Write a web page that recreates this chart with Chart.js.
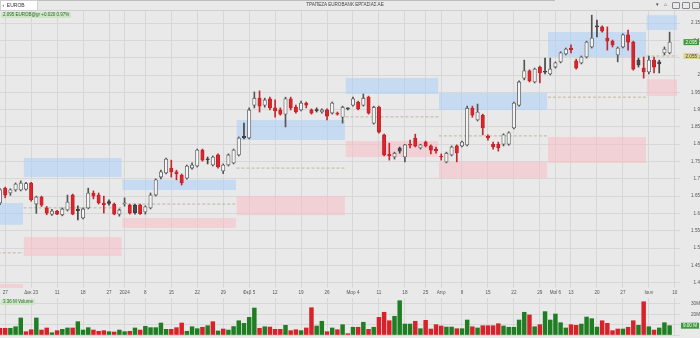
<!DOCTYPE html>
<html>
<head>
<meta charset="utf-8">
<script src="https://cdn.jsdelivr.net/npm/chart.js@4.4.1/dist/chart.umd.min.js"></script>
<style>
html, body { margin: 0; padding: 0; background: #e9e9e9; }
#wrap { position: relative; width: 700px; height: 338px; overflow: hidden; font-family: 'Liberation Sans', Arial, sans-serif; }
#price { position: absolute; left: 0; top: 0; }
#vol { position: absolute; left: 0; top: 298px; }
.topbar { position: absolute; left: 0; top: 0; width: 700px; height: 10px; border-bottom: 1px solid #d0d0d0; background: #e9e9e9; }
.scroll { position: absolute; left: 37px; top: 0; width: 518px; height: 1px; background: #bdbdbd; }
.search { position: absolute; left: 0; top: 0; width: 36px; height: 9px; background: #fff; border: 1px solid #cfcfcf; font-size: 5px; line-height: 9px; color: #333; }
.title { position: absolute; left: 300px; top: 2px; width: 90px; text-align: center; font-size: 4.6px; color: #444; }
.icon { position: absolute; top: 2px; width: 6px; height: 5px; border: 1px solid #888; border-radius: 1px; }
.tri { position: absolute; top: 1px; font-size: 5px; color: #444; }
.tag { position: absolute; font-size: 4.5px; line-height: 6px; padding: 0 2px; border-radius: 1px; }
</style>
</head>
<body>
<div id="wrap">
  <canvas id="price" width="700" height="298"></canvas>
  <canvas id="vol" width="700" height="40"></canvas>
  <div class="topbar"></div>
  <div class="scroll"></div>
  <div class="search">&nbsp;&lsaquo;&nbsp; EUROB</div>
  <div class="title">ΤΡΑΠΕΖΑ EUROBANK ΕΡΓΑΣΙΑΣ ΑΕ</div>
  <div class="tri" style="left:656px">&#9662;</div>
  <div class="tri" style="left:664px">&#8962;</div>
  <div class="icon" style="left:672px"></div>
  <div class="icon" style="left:682px"></div>
  <div class="icon" style="left:692px"></div>
  <div class="tag" style="left:1px;top:12px;background:#cde4c6;color:#2f6b2f">2.095 EUROB@gr +0.020 0.97%</div>
  <div class="tag" style="left:1px;top:299px;background:#cde4c6;color:#2f6b2f">3.36 M Volume</div>
</div>
<script>
// daily candles, 24 Nov 2023 .. 7 Jun 2024
const opens = [1.630,1.673,1.659,1.668,1.668,1.670,1.688,1.627,1.647,1.616,1.598,1.607,1.596,1.610,1.653,1.612,1.587,1.616,1.659,1.653,
  1.630,1.634,1.627,1.598,1.628,1.624,1.624,1.624,1.604,1.616,1.653,1.705,1.717,1.731,1.720,1.711,1.702,1.731,1.737,1.783,
  1.758,1.740,1.769,1.723,1.740,1.746,1.769,1.823,1.818,1.913,1.933,1.913,1.931,1.905,1.899,1.887,1.931,1.907,1.899,1.919,
  1.899,1.900,1.893,1.899,1.890,1.890,1.878,1.902,1.913,1.922,1.913,1.936,1.861,1.907,1.827,1.771,1.763,1.789,1.763,1.800,
  1.818,1.789,1.806,1.795,1.785,1.765,1.749,1.769,1.795,1.795,1.798,1.904,1.870,1.884,1.823,1.800,1.800,1.800,1.800,1.847,
  1.913,1.991,2.012,1.980,2.023,2.010,2.003,2.023,2.038,2.061,2.078,2.041,2.035,2.052,2.081,2.141,2.139,2.107,2.098,2.058,
  2.081,2.116,2.095,2.043,2.020,2.009,2.043,2.038,2.064,2.064];
const highs = [1.672,1.676,1.671,1.688,1.694,1.690,1.690,1.650,1.650,1.620,1.612,1.609,1.616,1.653,1.656,1.622,1.616,1.673,1.665,1.659,
  1.650,1.639,1.630,1.613,1.645,1.627,1.627,1.627,1.622,1.659,1.700,1.725,1.760,1.754,1.725,1.714,1.740,1.746,1.786,1.786,
  1.763,1.766,1.772,1.743,1.772,1.786,1.821,1.861,1.905,1.951,1.954,1.933,1.936,1.928,1.905,1.936,1.936,1.913,1.925,1.922,
  1.902,1.905,1.902,1.902,1.922,1.893,1.910,1.905,1.936,1.925,1.945,1.939,1.910,1.910,1.829,1.803,1.777,1.792,1.800,1.812,
  1.829,1.800,1.809,1.798,1.792,1.772,1.777,1.795,1.798,1.809,1.910,1.910,1.916,1.887,1.827,1.806,1.806,1.830,1.836,1.922,
  1.983,2.043,2.015,2.020,2.026,2.049,2.049,2.038,2.067,2.078,2.087,2.046,2.055,2.098,2.173,2.159,2.142,2.139,2.101,2.081,
  2.119,2.130,2.098,2.049,2.052,2.055,2.052,2.043,2.081,2.124];
const lows = [1.625,1.645,1.652,1.664,1.665,1.667,1.635,1.600,1.620,1.596,1.594,1.596,1.593,1.607,1.596,1.581,1.584,1.613,1.642,1.627,
  1.601,1.624,1.596,1.592,1.621,1.598,1.598,1.597,1.598,1.613,1.650,1.700,1.714,1.705,1.697,1.682,1.699,1.728,1.734,1.751,
  1.743,1.737,1.731,1.715,1.737,1.743,1.766,1.815,1.815,1.905,1.893,1.907,1.899,1.878,1.884,1.850,1.899,1.890,1.896,1.905,
  1.887,1.893,1.890,1.870,1.887,1.884,1.861,1.899,1.910,1.899,1.910,1.887,1.858,1.832,1.766,1.754,1.757,1.774,1.749,1.789,
  1.792,1.786,1.792,1.772,1.774,1.754,1.746,1.766,1.749,1.792,1.795,1.878,1.867,1.827,1.812,1.786,1.780,1.795,1.797,1.844,
  1.910,1.986,1.980,1.977,1.977,2.003,2.000,2.020,2.035,2.058,2.064,2.017,2.032,2.049,2.078,2.110,2.124,2.072,2.081,2.038,
  2.078,2.072,2.014,2.023,1.991,2.003,2.006,2.006,2.058,2.061];
const closes = [1.668,1.653,1.668,1.685,1.688,1.686,1.639,1.647,1.624,1.601,1.607,1.598,1.613,1.633,1.598,1.608,1.613,1.659,1.650,1.630,
  1.625,1.629,1.598,1.610,1.630,1.601,1.602,1.599,1.619,1.653,1.697,1.720,1.757,1.720,1.714,1.688,1.737,1.740,1.783,1.754,
  1.755,1.763,1.734,1.740,1.769,1.783,1.818,1.819,1.899,1.933,1.910,1.928,1.905,1.896,1.887,1.931,1.905,1.893,1.919,1.913,
  1.890,1.897,1.899,1.881,1.919,1.887,1.907,1.902,1.931,1.902,1.933,1.890,1.907,1.835,1.769,1.767,1.774,1.780,1.798,1.797,
  1.794,1.798,1.795,1.783,1.781,1.763,1.774,1.792,1.775,1.806,1.904,1.884,1.893,1.847,1.818,1.792,1.790,1.827,1.833,1.919,
  1.980,2.012,1.983,2.017,2.006,2.008,2.017,2.035,2.064,2.075,2.073,2.020,2.052,2.095,2.107,2.139,2.127,2.098,2.087,2.078,
  2.116,2.095,2.017,2.029,2.009,2.043,2.023,2.032,2.075,2.095];

// volume in millions, 1 = close above previous close
const volumes = [6.5,6.5,6.5,8.0,16.5,3.2,5.1,16.5,4.8,6.8,2.2,4.2,5.5,6.8,6.8,12.9,4.8,7.1,4.8,3.6,
  4.2,3.2,2.9,4.8,3.2,3.6,6.8,4.8,8.4,7.1,7.1,11.6,5.5,5.5,7.1,11.6,3.6,8.0,6.1,7.5,
  9.0,12.9,3.9,5.8,4.8,8.2,13.8,11.3,17.1,26.1,6.5,8.0,7.7,5.5,5.5,9.4,4.2,5.1,4.2,6.8,
  26.4,8.7,13.3,3.2,6.8,5.1,10.0,1.3,7.5,7.5,12.3,5.5,7.5,17.1,22.0,13.8,18.1,33.2,10.6,10.6,
  13.3,6.1,14.2,5.8,10.0,8.7,7.7,7.7,6.1,6.1,14.5,8.0,6.8,9.0,9.0,9.0,10.9,8.7,7.5,7.5,
  14.5,22.0,19.4,8.0,10.0,22.6,14.5,20.3,11.9,6.8,10.0,9.4,10.6,17.4,15.8,7.7,13.8,11.3,4.2,5.8,
  5.8,7.5,13.8,9.4,32.2,8.0,4.8,6.8,11.9,9.0];
const volUp = [0,0,1,1,1,0,0,1,0,0,1,0,1,1,0,1,1,1,0,0,
  0,1,0,1,1,0,1,0,1,1,1,1,1,0,0,0,1,1,1,0,
  1,0,1,0,1,1,1,1,1,1,0,1,0,0,0,1,0,0,1,0,
  0,1,1,0,1,0,1,0,1,0,1,0,1,0,0,0,1,1,1,1,
  0,1,0,0,0,0,1,1,0,1,1,0,1,0,0,0,0,1,1,1,
  1,1,0,1,0,1,1,1,1,1,0,0,1,1,1,1,0,0,0,0,
  1,0,0,1,0,1,0,1,1,1];

// x-axis labels and the candle they sit under
const tickIdx = [1,6,11,16,21,24,28,33,38,43,48,53,58,63,68,73,78,82,85,89,94,99,104,107,110,115,120,125,130];
const tickText = ['27','Δεκ 23','11','18','27','2024','8','15','22','29','Φεβ 5','12','19','26','Μαρ 4','11','18','25',
  'Απρ','8','15','22','29','Μαΐ 6','13','20','27','Ιουν','10'];

// monthly zones: first/last candle, upper (blue) zone, lower (red) zone, pivot
const zoneStart = [0,5,24,46,67,85,106,125];
const zoneEnd = [4,23,45,66,84,105,124,130];
const upperTop = [1.630,1.760,1.697,1.870,1.991,1.948,2.124,2.173];
const upperBot = [1.567,1.705,1.668,1.812,1.945,1.899,2.052,2.130];
const lowerTop = [1.396,1.532,1.587,1.650,1.809,1.749,1.821,1.988];
const lowerBot = [1.350,1.477,1.558,1.595,1.763,1.702,1.746,1.939];
const pivots = [1.486,1.616,1.627,1.731,1.879,1.824,1.936,2.055];

const N = 132;
const labels = [];
for (let i = 0; i < N; i++) {
    const k = tickIdx.indexOf(i);
    labels.push(k >= 0 ? tickText[k] : '');
}

const GRID = '#d7d7d7';
const FONT = { family: "'Liberation Sans', Arial, sans-serif", size: 4.6 };

function kind(i) {
    if (closes[i] > opens[i]) return 'up';
    if (i > 0 && closes[i] >= closes[i - 1]) return 'dark';
    if (closes[i] === opens[i]) return 'dark';
    return 'down';
}
const bodyFill = { up: '#f3f3f3', down: '#d8262c', dark: '#4a4a4a' };
const bodyLine = { up: '#555555', down: '#c21f26', dark: '#3a3a3a' };
const wickCol = { up: '#555555', down: '#c4262b', dark: '#444444' };

const datasets = [];

// zones and pivots drawn on a hidden linear x axis so they span whole months
zoneStart.forEach((s, m) => {
    const x0 = s - 0.45, x1 = zoneEnd[m] + 0.45;
    datasets.push({
        type: 'line', xAxisID: 'x2', order: 10,
        data: [{ x: x0, y: upperTop[m] }, { x: x1, y: upperTop[m] }],
        borderColor: 'transparent', borderWidth: 0, pointRadius: 0,
        fill: { value: upperBot[m] }, backgroundColor: 'rgba(170,205,250,0.55)'
    });
    datasets.push({
        type: 'line', xAxisID: 'x2', order: 10,
        data: [{ x: x0, y: lowerTop[m] }, { x: x1, y: lowerTop[m] }],
        borderColor: 'transparent', borderWidth: 0, pointRadius: 0,
        fill: { value: lowerBot[m] }, backgroundColor: 'rgba(250,190,198,0.55)'
    });
    datasets.push({
        type: 'line', xAxisID: 'x2', order: 9,
        data: [{ x: x0, y: pivots[m] }, { x: x1, y: pivots[m] }],
        borderColor: '#bdb59c', borderWidth: 1, borderDash: [3, 2],
        pointRadius: 0, fill: false
    });
});

datasets.push({
    type: 'bar', label: 'wick', order: 2, grouped: false,
    data: lows.map((l, i) => [l, highs[i]]),
    backgroundColor: ctx => wickCol[kind(ctx.dataIndex)],
    borderWidth: 0, barThickness: 1, minBarLength: 1
});
datasets.push({
    type: 'bar', label: 'body', order: 1, grouped: false,
    data: opens.map((o, i) => [o, closes[i]]),
    backgroundColor: ctx => bodyFill[kind(ctx.dataIndex)],
    borderColor: ctx => bodyLine[kind(ctx.dataIndex)],
    borderWidth: 0.8, borderSkipped: false,
    barThickness: 3.4, minBarLength: 1
});

function drawTag(ctx, x, y, text, bg, fg) {
    ctx.save();
    ctx.font = '4.6px "Liberation Sans", Arial, sans-serif';
    const w = ctx.measureText(text).width + 4;
    ctx.fillStyle = bg;
    ctx.fillRect(x - w, y - 3, w, 6);
    ctx.fillStyle = fg;
    ctx.textAlign = 'right';
    ctx.textBaseline = 'middle';
    ctx.fillText(text, x - 2, y + 0.3);
    ctx.restore();
}

const priceTags = {
    id: 'priceTags',
    afterDraw(chart) {
        const y = chart.scales.y;
        const last = closes.length - 1;
        const pv = pivots[pivots.length - 1];
        drawTag(chart.ctx, 699, y.getPixelForValue(closes[last]), closes[last].toFixed(3), '#3f9a3f', '#ffffff');
        drawTag(chart.ctx, 699, y.getPixelForValue(pv), pv.toFixed(3), '#ddd58a', '#444444');
    }
};

const volTag = {
    id: 'volTag',
    afterDraw(chart) {
        const y = chart.scales.y;
        const v = volumes[volumes.length - 1];
        drawTag(chart.ctx, 699, y.getPixelForValue(v), v.toFixed(2) + ' M', '#3f9a3f', '#ffffff');
    }
};

const xGrid = ctx => (labels[ctx.index] ? GRID : 'transparent');

new Chart(document.getElementById('price'), {
    type: 'bar',
    data: { labels: labels, datasets: datasets },
    options: {
        responsive: false,
        animation: false,
        layout: { padding: { top: 11, left: 0, right: 0, bottom: 0 } },
        plugins: { legend: { display: false }, tooltip: { enabled: false } },
        scales: {
            x: {
                type: 'category', offset: false,
                grid: { offset: false, color: xGrid, drawTicks: false },
                border: { display: false },
                ticks: { autoSkip: false, maxRotation: 0, padding: 2, font: FONT, color: '#555',
                    callback: (v, i) => labels[i] },
                afterFit: s => { s.height = 10; s.paddingLeft = 0; s.paddingRight = 0; }
            },
            x2: { type: 'linear', display: false, offset: false, grid: { offset: false }, min: 0, max: N - 1 },
            y: {
                position: 'right', min: 1.3844, max: 2.185,
                grid: { color: GRID, drawTicks: false },
                border: { display: false },
                ticks: { stepSize: 0.05, includeBounds: false, crossAlign: 'far', padding: 1,
                    font: FONT, color: '#555', callback: v => String(+v.toFixed(2)) },
                afterFit: s => { s.width = 20; s.paddingTop = 0; s.paddingBottom = 0; }
            }
        }
    },
    plugins: [priceTags]
});

new Chart(document.getElementById('vol'), {
    type: 'bar',
    data: {
        labels: labels,
        datasets: [{
            data: volumes,
            backgroundColor: volUp.map(u => (u ? '#1f7d22' : '#d7222a')),
            borderWidth: 0, barThickness: 3.8
        }]
    },
    options: {
        responsive: false,
        animation: false,
        layout: { padding: { top: 0, left: 0, right: 0, bottom: 3 } },
        plugins: { legend: { display: false }, tooltip: { enabled: false } },
        scales: {
            x: {
                offset: false,
                grid: { offset: false, color: xGrid, drawTicks: false },
                border: { display: false },
                ticks: { display: false },
                afterFit: s => { s.height = 0; s.paddingLeft = 0; s.paddingRight = 0; }
            },
            y: {
                position: 'right', min: 0, max: 35.8,
                grid: { color: GRID, drawTicks: false },
                border: { display: false },
                ticks: { stepSize: 10, includeBounds: false, crossAlign: 'far', padding: 1,
                    font: FONT, color: '#555', callback: v => (v >= 20 ? v + 'M' : '') },
                afterFit: s => { s.width = 20; s.paddingTop = 0; s.paddingBottom = 0; }
            }
        }
    },
    plugins: [volTag]
});
</script>
</body>
</html>
